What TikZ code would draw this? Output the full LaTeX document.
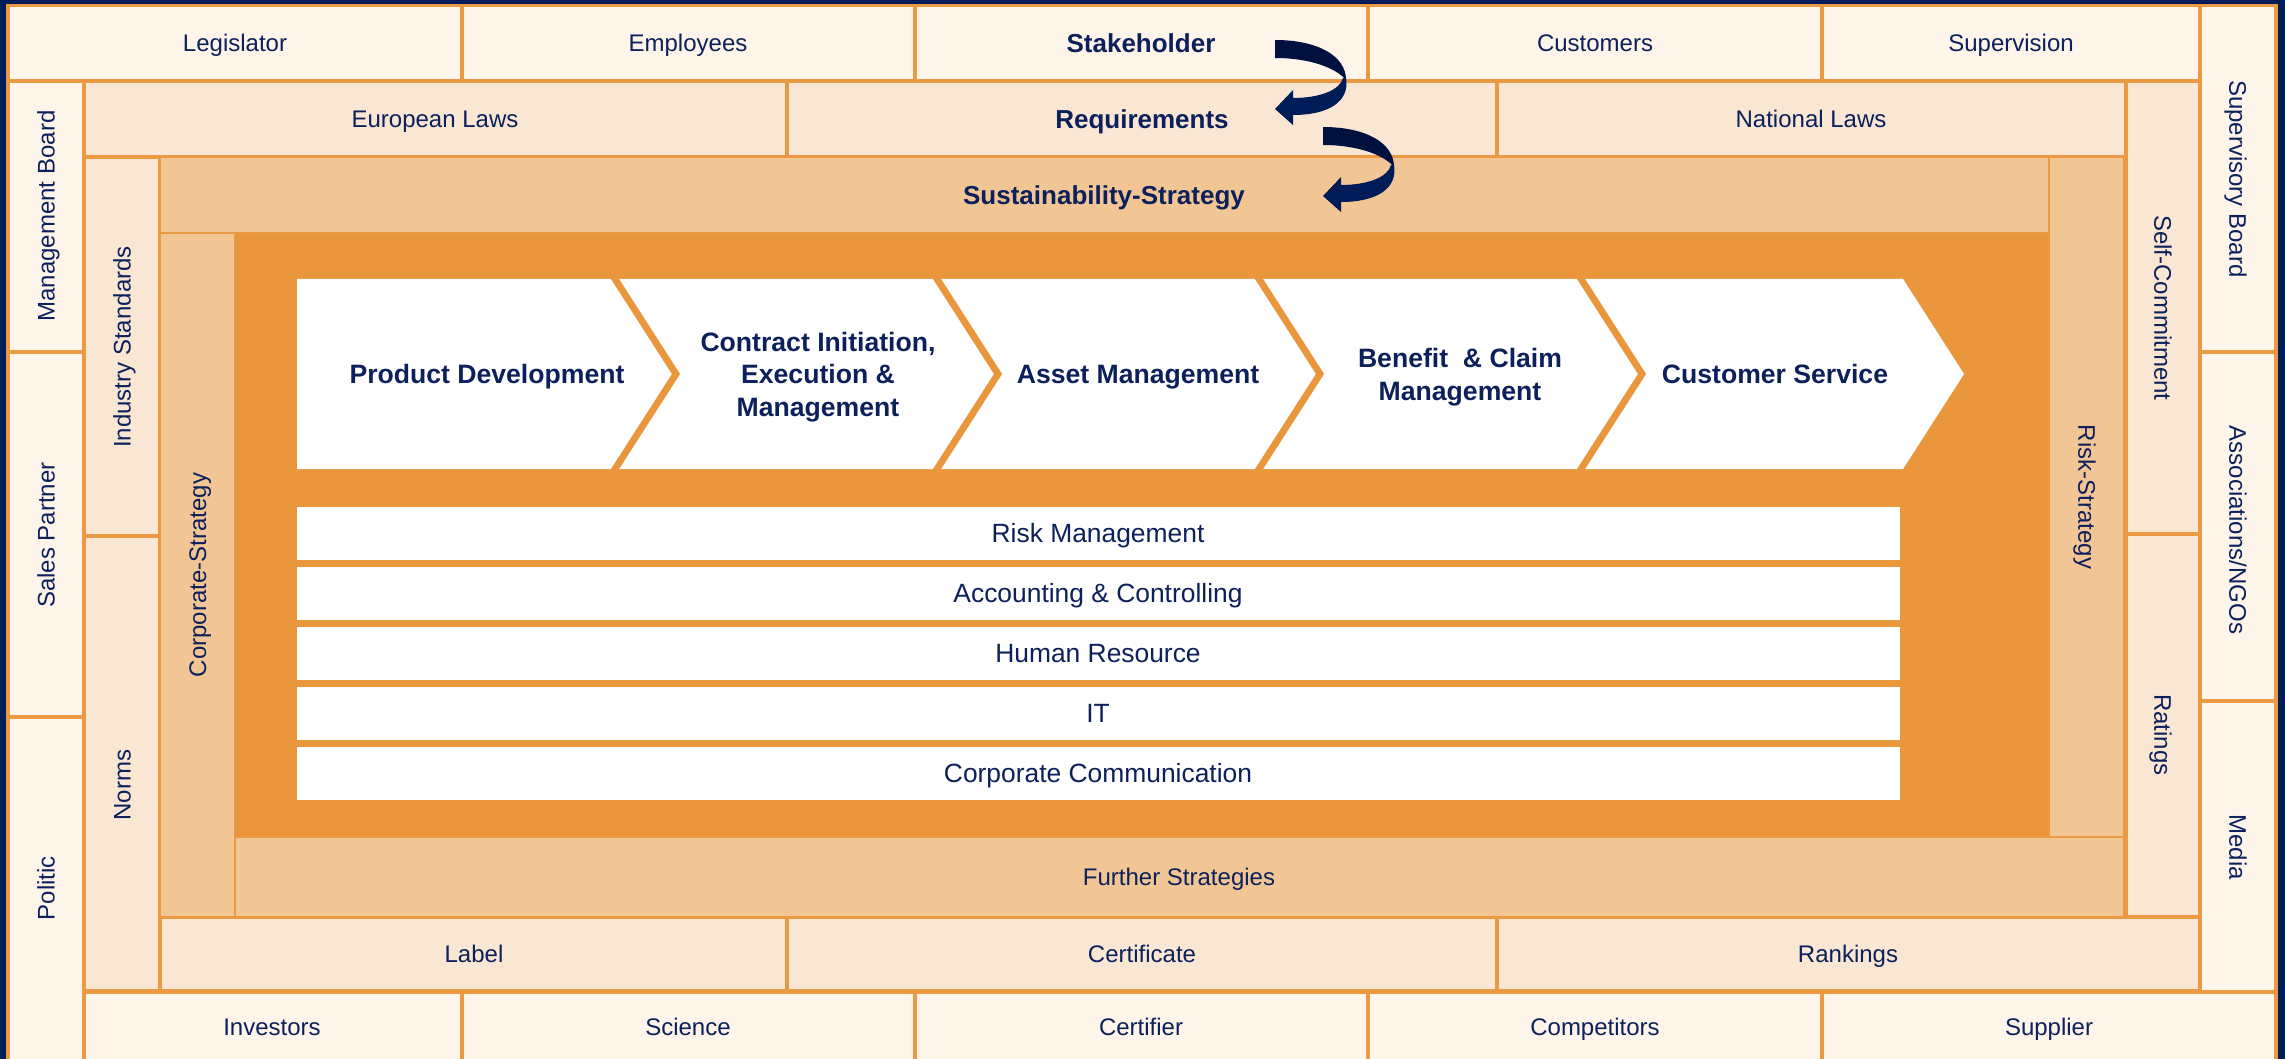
\documentclass[tikz,border=0pt]{standalone}
\usepackage{fontspec}
\setmainfont{Liberation Sans}
\definecolor{navy}{RGB}{0,28,88}
\definecolor{navydark}{RGB}{0,17,64}
\definecolor{txt}{RGB}{12,32,92}
\definecolor{rA}{RGB}{253,244,234}
\definecolor{rB}{RGB}{249,230,211}
\definecolor{rC}{RGB}{242,197,148}
\definecolor{core}{RGB}{233,150,61}
\definecolor{edge}{RGB}{235,153,66}
\tikzset{
  cellA/.style={fill=rA,draw=edge,line width=1.6pt},
  cellB/.style={fill=rB,draw=edge,line width=1.6pt},
  cellC/.style={fill=rC,draw=edge,line width=1.2pt},
  corebox/.style={fill=core},
  barbox/.style={fill=white},
  sepline/.style={draw=core,line width=3.4pt,line join=miter},
  lbl/.style={text=txt,inner sep=0pt,font=\fontsize{12}{14}\selectfont,text height=8.6pt,text depth=0pt},
  barlbl/.style={text=txt,inner sep=0pt,font=\fontsize{13.2}{15}\selectfont,text height=9.45pt,text depth=0pt},
  blbl/.style={text=txt,inner sep=0pt,font=\bfseries\fontsize{13}{15}\selectfont,text height=9.3pt,text depth=0pt},
  chlbl/.style={text=txt,inner sep=0pt,align=center,font=\bfseries\fontsize{13.3}{16.3}\selectfont,text height=9.5pt,text depth=0pt},
  up/.style={rotate=90},
  down/.style={rotate=-90},
}
\newcommand{\bendarrow}[2]{%
  \begin{scope}[shift={(#1,#2)}]
    \fill[navydark] (1275,40) .. controls (1318,40) and (1346,56) .. (1346,80)
       .. controls (1336,68) and (1310,58) .. (1275,58) -- cycle;
    \fill[navy] (1346,78) .. controls (1350,102) and (1328,115) .. (1293,115)
       -- (1293,125) -- (1275,109) -- (1293,90) -- (1293,98)
       .. controls (1320,98) and (1340,90) .. (1343,78) -- cycle;
  \end{scope}}
\begin{document}
\begin{tikzpicture}[x=0.5pt,y=-0.5pt]
\useasboundingbox (0,0) rectangle (2285,1059);
\clip (0,0) rectangle (2285,1059);
\fill[navy] (0,0) rectangle (2285,1059);
% ring 1
\path[cellA] (8,5.5) rectangle (462,81);
\path[cellA] (462,5.5) rectangle (915,81);
\path[cellA] (915,5.5) rectangle (1368,81);
\path[cellA] (1368,5.5) rectangle (1822,81);
\path[cellA] (1822,5.5) rectangle (2200,81);
\path[cellA] (2200,5.5) rectangle (2276,352);
\path[cellA] (2200,352) rectangle (2276,701);
\path[cellA] (2200,701) rectangle (2276,992);
\path[cellA] (84,992) rectangle (462,1070);
\path[cellA] (462,992) rectangle (915,1070);
\path[cellA] (915,992) rectangle (1368,1070);
\path[cellA] (1368,992) rectangle (1822,1070);
\path[cellA] (1822,992) rectangle (2276,1070);
\path[cellA] (8,81) rectangle (84,352);
\path[cellA] (8,352) rectangle (84,717);
\path[cellA] (8,717) rectangle (84,1070);
% ring 2
\path[cellB] (84,81) rectangle (787,157);
\path[cellB] (787,81) rectangle (1497,157);
\path[cellB] (1497,81) rectangle (2126,157);
\path[cellB] (2126,81) rectangle (2200,534);
\path[cellB] (2126,534) rectangle (2200,917);
\path[cellB] (160,917) rectangle (787,991);
\path[cellB] (787,917) rectangle (1497,991);
\path[cellB] (1497,917) rectangle (2200,991);
\path[cellB] (84,157) rectangle (160,536);
\path[cellB] (84,536) rectangle (160,991);
% ring 3
\path[cellC] (160,157) rectangle (2049,233);
\path[cellC] (2049,157) rectangle (2124,837);
\path[cellC] (235,837) rectangle (2124,917);
\path[cellC] (160,233) rectangle (235,917);
% core
\path[corebox] (235.6,233.6) rectangle (2048.4,836.4);
% chevrons
\fill[white] (297,279) -- (1903,279) -- (1964,374) -- (1903,469) -- (297,469) -- cycle;
\foreach \r in {615,937,1259,1581}{
  \draw[sepline] (\r-3.5,273.5) -- (\r+61,374) -- (\r-3.5,474.5);
}
% bars
\foreach \t in {507,567,627,687,747}{
  \path[barbox] (297,\t) rectangle (1900,\t+53);
}
% arrows
\bendarrow{0}{0}
\bendarrow{48}{87}
% texts ring 1
\node[lbl] (legislator) at (235,43) {Legislator};
\node[lbl] (employees) at (688,43) {Employees};
\node[blbl] (stakeholder) at (1141,43) {Stakeholder};
\node[lbl] (customers) at (1595,43) {Customers};
\node[lbl] (supervision) at (2011,43) {Supervision};
\node[lbl,down] (supboard) at (2238,179) {Supervisory Board};
\node[lbl,down] (assoc) at (2238,530) {Associations/NGOs};
\node[lbl,down] (media) at (2238,847) {Media};
\node[lbl] (investors) at (272,1027) {Investors};
\node[lbl] (science) at (688,1027) {Science};
\node[lbl] (certifier) at (1141,1027) {Certifier};
\node[lbl] (competitors) at (1595,1027) {Competitors};
\node[lbl] (supplier) at (2049,1027) {Supplier};
\node[lbl,up] (mgmtboard) at (46,216) {Management Board};
\node[lbl,up] (salespartner) at (46,535) {Sales Partner};
\node[lbl,up] (politic) at (46,888) {Politic};
% texts ring 2
\node[lbl] (eulaws) at (435,119) {European Laws};
\node[blbl] (requirements) at (1142,119) {Requirements};
\node[lbl] (natlaws) at (1811,119) {National Laws};
\node[lbl,down] (selfcommit) at (2163,308) {Self-Commitment};
\node[lbl,down] (ratings) at (2163,735) {Ratings};
\node[lbl] (label) at (474,954) {Label};
\node[lbl] (certificate) at (1142,954) {Certificate};
\node[lbl] (rankings) at (1848,954) {Rankings};
\node[lbl,up] (industry) at (122,347) {Industry Standards};
\node[lbl,up] (norms) at (122,785) {Norms};
% texts ring 3
\node[blbl] (sustain) at (1104,195) {Sustainability-Strategy};
\node[lbl,down] (riskstrat) at (2087,497) {Risk-Strategy};
\node[lbl] (further) at (1179,877) {Further Strategies};
\node[lbl,up] (corpstrat) at (197.5,575) {Corporate-Strategy};
% chevron texts
\node[chlbl] (proddev) at (487,374) {Product Development};
\node[chlbl] (contract) at (818,407) {Contract Initiation,\\Execution \&\\Management};
\node[chlbl] (asset) at (1138,374) {Asset Management};
\node[chlbl] (benefit) at (1460,391) {Benefit\ \ \& Claim\\Management};
\node[chlbl] (custserv) at (1775,374) {Customer Service};
% bar texts
\node[barlbl] (riskmgmt) at (1098,533.5) {Risk Management};
\node[barlbl] (accounting) at (1098,593.5) {Accounting \& Controlling};
\node[barlbl] (hr) at (1098,653.5) {Human Resource};
\node[barlbl] (it) at (1098,713.5) {IT};
\node[barlbl] (corpcomm) at (1098,773.5) {Corporate Communication};
\end{tikzpicture}
\end{document}
